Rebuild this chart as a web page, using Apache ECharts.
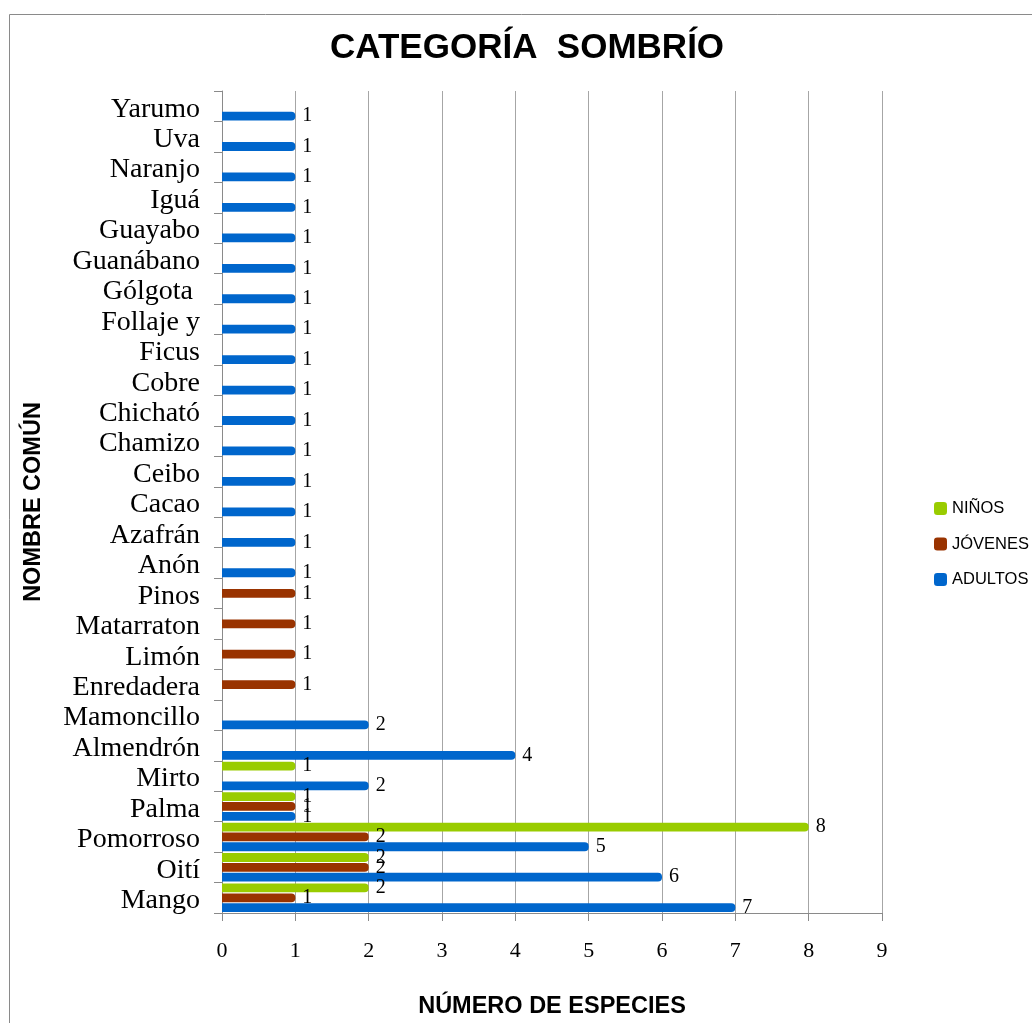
<!DOCTYPE html>
<html>
<head>
<meta charset="utf-8">
<script src="https://cdn.jsdelivr.net/npm/echarts@6/dist/echarts.min.js"></script>
<style>
html,body{margin:0;padding:0;background:#fff;}
#chart{width:1032px;height:1023px;}
</style>
</head>
<body>
<div id="chart"></div>
<script>
const categories = ['Mango','Oití','Pomorroso','Palma','Mirto','Almendrón','Mamoncillo','Enredadera','Limón','Matarraton','Pinos','Anón','Azafrán','Cacao','Ceibo','Chamizo','Chicható','Cobre','Ficus','Follaje y','Gólgota ','Guanábano','Guayabo','Iguá','Naranjo','Uva','Yarumo'];
const adultos = [7,6,5,1,2,4,2,null,null,null,null,1,1,1,1,1,1,1,1,1,1,1,1,1,1,1,1];
const jovenes = [1,2,2,1,null,null,null,1,1,1,1,null,null,null,null,null,null,null,null,null,null,null,null,null,null,null,null];
const ninos   = [2,2,8,1,1,null,null,null,null,null,null,null,null,null,null,null,null,null,null,null,null,null,null,null,null,null,null];
const xTicks = [0,1,2,3,4,5,6,7,8,9];

const chart = echarts.init(document.getElementById('chart'));
const labelStyle = {show:true, position:'right', distance:7, fontFamily:'Liberation Serif', fontSize:20, color:'#000'};
function mk(name, data, color){
  return {name:name, type:'bar', data:data, barWidth:8.8, barGap:'12%',
    itemStyle:{color:color, borderRadius:[0,4,4,0]}, label:labelStyle};
}
chart.setOption({
  animation:false,
  title:{text:'CATEGORÍA  SOMBRÍO', left:325, top:26,
    textStyle:{fontFamily:'Liberation Sans', fontWeight:'bold', fontSize:35, color:'#000'}},
  graphic:[{type:'rect', shape:{x:9.5,y:14.5,width:1200,height:1200}, style:{fill:'none', stroke:'#8a8a8a', lineWidth:1}}],
  legend:{orient:'vertical', left:929, top:495, itemWidth:13, itemHeight:13, itemGap:18.5,
    data:['NIÑOS','JÓVENES','ADULTOS'], icon:'roundRect',
    textStyle:{fontFamily:'Liberation Sans', fontSize:16.5, color:'#000'}},
  grid:{left:222, right:150, top:91, bottom:110, containLabel:false, outerBoundsMode:'none'},
  xAxis:{type:'value', min:0, max:9, interval:1,
    name:'NÚMERO DE ESPECIES', nameLocation:'middle', nameGap:82,
    nameTextStyle:{fontFamily:'Liberation Sans', fontWeight:'bold', fontSize:23.5, color:'#000'},
    axisLine:{show:true, lineStyle:{color:'#8a8a8a'}},
    axisTick:{show:true, length:8, lineStyle:{color:'#8a8a8a'}},
    axisLabel:{margin:27, fontFamily:'Liberation Serif', fontSize:22, color:'#000',
      formatter:function(v){return xTicks.indexOf(v)>=0 ? String(v) : '';}},
    splitLine:{show:true, lineStyle:{color:'#a6a6a6'}}},
  yAxis:{type:'category', data:categories,
    name:'NOMBRE COMÚN', nameLocation:'middle', nameGap:176, nameRotate:90,
    nameTextStyle:{fontFamily:'Liberation Sans', fontWeight:'bold', fontSize:23.5, color:'#000'},
    axisLine:{show:true, lineStyle:{color:'#8a8a8a'}},
    axisTick:{show:true, length:8, lineStyle:{color:'#8a8a8a'}},
    axisLabel:{margin:22, fontFamily:'Liberation Serif', fontSize:28, color:'#000', interval:0,
      verticalAlign:'top', lineHeight:6}},
  series:[mk('NIÑOS', ninos, '#99CC00'), mk('JÓVENES', jovenes, '#993300'), mk('ADULTOS', adultos, '#0066CC')]
});
</script>
</body>
</html>
